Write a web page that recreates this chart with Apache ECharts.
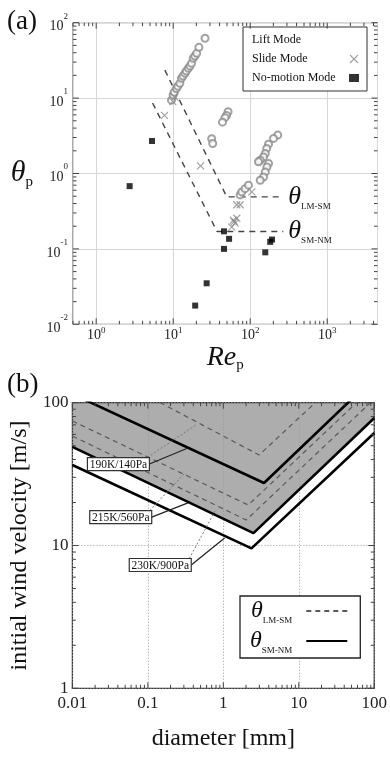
<!DOCTYPE html>
<html><head><meta charset="utf-8">
<script src="https://cdn.jsdelivr.net/npm/echarts@6.0.0/dist/echarts.min.js"></script>
<style>html,body{margin:0;padding:0;background:#fff;}#c{width:390px;height:758px;}</style>
</head><body><div id="c"></div>
<script>
const FONT = "'Liberation Serif','Times New Roman','DejaVu Serif',serif";

// ---------- Panel (a) data ----------
const liftRe = [9.5,9.98,10.3,11.0,11.5,12.2,12.8,13.4,14.2,14.8,15.7,16.5,17.3,18.2,19.1,20.2,21.6,25.9,
  51.6,49.3,47.1,43.7, 31.6,32.6, 74.0,77.8,85.9,94.9,
  228,201,173,164,157,149,135,128,173,165,157,149,135];
const liftTheta = [9.4,11.0,12.0,13.4,14.4,15.7,18.3,19.6,21.3,22.8,24.8,26.6,28.9,33.7,36.1,39.2,47.1,62.1,
  6.6,5.9,5.5,4.8, 2.9,2.5, 0.52,0.57,0.63,0.70,
  3.23,2.92,2.45,2.15,1.84,1.66,1.50,1.43,1.36,1.22,1.05,0.90,0.815];
const slideRe = [7.7,9.9,10.5,22.7,67,74,105,60.5,67,57.6,63.7,62];
const slideTheta = [5.9,9.0,10.3,1.26,0.385,0.385,0.57,0.24,0.255,0.195,0.219,0.23];
const noMotionRe = [2.72,5.31,45.7,53.2,45.7,157,192,182,27.2,19.3];
const noMotionTheta = [0.68,2.7,0.171,0.136,0.10,0.090,0.133,0.124,0.035,0.0177];
const lmsmRe = [7.8,49.6,269];
const lmsmTheta = [23.5,0.49,0.49];
const smnmRe = [5.4,37.1,269];
const smnmTheta = [8.6,0.17,0.17];
const thresholdLabelPos = [[313,0.49],[313,0.17]];
const thresholdLabelSub = ['LM-SM','SM-NM'];
const modeNames = ['Lift Mode','Slide Mode','No-motion Mode'];

// ---------- Panel (b) data ----------
const conditions = ['190K/140Pa','215K/560Pa','230K/900Pa'];
const smnmDiam = [[0.01,3.46,100],[0.01,2.51,100],[0.01,2.36,100]];
const smnmWind = [[115,27.4,150],[49.0,12.2,78.2],[36.6,9.55,61.3]];
const lmsmDiam = [[0.01,2.98,100],[0.01,2.14,100],[0.01,2.01,100]];
const lmsmWind = [[212,43.0,243],[74.5,19.2,131],[58.4,15.1,106]];
const shadedIndex = 1;
const labelPos = [[0.0407,37.2],[0.0437,15.8],[0.146,7.3]];
const solidTarget = [[0.34,48.2],[0.34,19.9],[1.04,11.3]];
const dashTarget = [[0.432,69.8],[0.31,32.2],[0.79,17.7]];
const legendNames = ['θLM-SM','θSM-NM'];
const legendSubs = ['LM-SM','SM-NM'];

// ---------- ranges ----------
const aX = [0.5,4500], aY = [0.01,100];
const bX = [0.01,100], bY = [1,100];

function isDecade(v){const e=Math.log10(v);return Math.abs(e-Math.round(e))<1e-6;}
function supLabel(v){ if(!isDecade(v)) return ''; return '{b|10}{s|'+Math.round(Math.log10(v))+'}'; }
function plainLabel(v){ if(!isDecade(v)) return ''; const r=Math.round(Math.log10(v)); return String(Number(Math.pow(10,r).toFixed(Math.max(0,-r)))); }
const supRichY = {
  b:{fontFamily:FONT,fontSize:14,color:'#222',lineHeight:22,verticalAlign:'bottom'},
  s:{fontFamily:FONT,fontSize:9,color:'#222',lineHeight:12,verticalAlign:'top'}
};
const supRichX = {
  b:{fontFamily:FONT,fontSize:14,color:'#222',lineHeight:16,verticalAlign:'bottom'},
  s:{fontFamily:FONT,fontSize:9,color:'#222',lineHeight:10,verticalAlign:'top'}
};

function tickData(xr, yr){
  const out=[];
  const gen=(r,isX)=>{
    for(let e=Math.floor(Math.log10(r[0]));e<=Math.ceil(Math.log10(r[1]));e++){
      for(let k=1;k<=9;k++){
        const v=k*Math.pow(10,e);
        if(v<r[0]*0.9999||v>r[1]*1.0001) continue;
        out.push(isX?[v,yr[0],0,k===1?1:0]:[xr[0],v,1,k===1?1:0]);
      }
    }
  };
  gen(xr,true); gen(yr,false);
  return out;
}
function tickSeries(gi, xr, yr){
  return {
    type:'custom', xAxisIndex:gi, yAxisIndex:gi, silent:true, z:5,
    data:tickData(xr,yr),
    renderItem:(params,api)=>{
      const kind=api.value(2), maj=api.value(3), len=maj?6:3.5;
      const st={stroke:'#444',lineWidth:1};
      if(kind===0){
        const v=api.value(0);
        const p=api.coord([v,yr[0]]), q=api.coord([v,yr[1]]);
        return {type:'group',children:[
          {type:'line',shape:{x1:p[0],y1:p[1],x2:p[0],y2:p[1]-len},style:st},
          {type:'line',shape:{x1:q[0],y1:q[1],x2:q[0],y2:q[1]+len},style:st}]};
      } else {
        const v=api.value(1);
        const p=api.coord([xr[0],v]), q=api.coord([xr[1],v]);
        return {type:'group',children:[
          {type:'line',shape:{x1:p[0],y1:p[1],x2:p[0]+len,y2:p[1]},style:st},
          {type:'line',shape:{x1:q[0],y1:q[1],x2:q[0]-len,y2:q[1]},style:st}]};
      }
    }
  };
}
const zip=(a,b)=>a.map((v,i)=>[v,b[i]]);

const series=[];
// Panel (a)
series.push({name:modeNames[0],type:'scatter',xAxisIndex:0,yAxisIndex:0,symbol:'emptyCircle',symbolSize:7,
  itemStyle:{color:'#8a8a8a',borderWidth:1},data:zip(liftRe,liftTheta),z:3});
series.push({name:modeNames[1],type:'scatter',xAxisIndex:0,yAxisIndex:0,symbol:'path://M0,0L10,10M10,0L0,10',symbolSize:7,
  itemStyle:{color:'rgba(0,0,0,0)',borderColor:'#888',borderWidth:1.1},data:zip(slideRe,slideTheta),z:3});
series.push({name:modeNames[2],type:'scatter',xAxisIndex:0,yAxisIndex:0,symbol:'rect',symbolSize:6,
  itemStyle:{color:'#000'},data:zip(noMotionRe,noMotionTheta),z:4});
series.push({type:'line',xAxisIndex:0,yAxisIndex:0,symbol:'none',data:zip(lmsmRe,lmsmTheta),
  lineStyle:{color:'#444',width:1.4,type:[6,5]},z:2,silent:true});
series.push({type:'line',xAxisIndex:0,yAxisIndex:0,symbol:'none',data:zip(smnmRe,smnmTheta),
  lineStyle:{color:'#444',width:1.4,type:[6,5]},z:2,silent:true});
series.push({type:'custom',xAxisIndex:0,yAxisIndex:0,silent:true,z:6,data:thresholdLabelPos,
  renderItem:(params,api)=>{
    const p=api.coord([api.value(0),api.value(1)]);
    return {type:'text',x:p[0],y:p[1],style:{text:'{t|θ}{s|'+thresholdLabelSub[params.dataIndex]+'}',
      align:'left',verticalAlign:'middle',
      rich:{t:{fontFamily:FONT,fontStyle:'italic',fontSize:26,lineHeight:28,fill:'#111'},
            s:{fontFamily:FONT,fontSize:9,lineHeight:12,verticalAlign:'bottom',fill:'#111'}}}};
  }});
series.push(tickSeries(0,aX,aY));

// Panel (b)
series.push({type:'custom',xAxisIndex:1,yAxisIndex:1,silent:true,z:-1,data:[[bX[0],bY[1]]],
  renderItem:(params,api)=>{
    const pts=smnmDiam[shadedIndex].map((d,i)=>api.coord([d,smnmWind[shadedIndex][i]]));
    pts.push(api.coord([bX[1],bY[1]])); pts.push(api.coord([bX[0],bY[1]]));
    return {type:'polygon',shape:{points:pts},style:{fill:'#adadad'}};
  }});
conditions.forEach((c,i)=>{
  series.push({name:legendNames[0],type:'line',xAxisIndex:1,yAxisIndex:1,symbol:'none',
    data:zip(lmsmDiam[i],lmsmWind[i]),lineStyle:{color:'#5a5a5a',width:1.2,type:[5,4]},
    itemStyle:{color:'#5a5a5a'},z:2,silent:true});
});
conditions.forEach((c,i)=>{
  series.push({name:legendNames[1],type:'line',xAxisIndex:1,yAxisIndex:1,symbol:'none',
    data:zip(smnmDiam[i],smnmWind[i]),lineStyle:{color:'#000',width:2.6},
    itemStyle:{color:'#000'},z:3,silent:true});
});
series.push({type:'custom',xAxisIndex:1,yAxisIndex:1,silent:true,z:6,
  data:labelPos.map((p,i)=>[p[0],p[1],solidTarget[i][0],solidTarget[i][1],dashTarget[i][0],dashTarget[i][1]]),
  renderItem:(params,api)=>{
    const c=api.coord([api.value(0),api.value(1)]);
    const s=api.coord([api.value(2),api.value(3)]);
    const d=api.coord([api.value(4),api.value(5)]);
    const w=62,h=13;
    return {type:'group',children:[
      {type:'line',shape:{x1:c[0]+w/2-2,y1:c[1]-h/2,x2:d[0],y2:d[1]},style:{stroke:'#777',lineWidth:1,lineDash:[2,2]}},
      {type:'line',shape:{x1:c[0]+w/2,y1:c[1],x2:s[0],y2:s[1]},style:{stroke:'#222',lineWidth:1.2}},
      {type:'rect',shape:{x:c[0]-w/2,y:c[1]-h/2,width:w,height:h},style:{fill:'#fff',stroke:'#333',lineWidth:1.2}},
      {type:'text',x:c[0],y:c[1]+0.5,style:{text:conditions[params.dataIndex],fontFamily:FONT,fontSize:11.5,
        align:'center',verticalAlign:'middle',fill:'#111'}}
    ]};
  }});
series.push(tickSeries(1,bX,bY));

const option={
  animation:false,
  backgroundColor:'#fff',
  title:[
    {text:'(a)',left:2,top:3,textStyle:{fontFamily:FONT,fontSize:27,fontWeight:'normal',color:'#111'}},
    {text:'(b)',left:2,top:366,textStyle:{fontFamily:FONT,fontSize:27,fontWeight:'normal',color:'#111'}}
  ],
  grid:[
    {left:73,top:22.7,width:304.5,height:301.6,show:true,borderColor:'#555',borderWidth:1,containLabel:false},
    {left:71,top:402.7,width:305.7,height:285.6,show:true,borderColor:'#333',borderWidth:1.3,containLabel:false}
  ],
  xAxis:[
    {type:'log',gridIndex:0,min:aX[0],max:aX[1],axisLine:{show:false},axisTick:{show:false},
     splitLine:{show:true,lineStyle:{color:'#d6d6d6',width:1}},
     axisLabel:{formatter:supLabel,rich:supRichX,margin:2},
     name:'{t|Re}{s|p}',nameLocation:'middle',nameGap:15,
     nameTextStyle:{rich:{t:{fontFamily:FONT,fontStyle:'italic',fontSize:28,lineHeight:30,color:'#111'},
       s:{fontFamily:FONT,fontSize:15,lineHeight:15,verticalAlign:'bottom',color:'#111'}}}},
    {type:'log',gridIndex:1,min:bX[0],max:bX[1],axisLine:{show:false},axisTick:{show:false},
     splitLine:{show:true,lineStyle:{color:'#999',width:1,type:[1,2]}},
     axisLabel:{formatter:plainLabel,fontFamily:FONT,fontSize:17,color:'#222',margin:7},
     name:'diameter [mm]',nameLocation:'middle',nameGap:38,
     nameTextStyle:{fontFamily:FONT,fontSize:24,color:'#111'}}
  ],
  yAxis:[
    {type:'log',gridIndex:0,min:aY[0],max:aY[1],axisLine:{show:false},axisTick:{show:false},
     splitLine:{show:true,lineStyle:{color:'#d6d6d6',width:1}},
     axisLabel:{formatter:supLabel,rich:supRichY,margin:5},
     name:'{t|θ}{s|p}',nameLocation:'middle',nameRotate:0,nameGap:40,
     nameTextStyle:{rich:{t:{fontFamily:FONT,fontStyle:'italic',fontSize:30,lineHeight:32,color:'#111'},
       s:{fontFamily:FONT,fontSize:15,lineHeight:15,verticalAlign:'bottom',color:'#111'}}}},
    {type:'log',gridIndex:1,min:bY[0],max:bY[1],axisLine:{show:false},axisTick:{show:false},
     splitLine:{show:true,lineStyle:{color:'#999',width:1,type:[1,2]}},
     axisLabel:{formatter:plainLabel,fontFamily:FONT,fontSize:17,color:'#222',margin:4},
     name:'initial wind velocity [m/s]',nameLocation:'middle',nameGap:33,
     nameTextStyle:{fontFamily:FONT,fontSize:24,color:'#111'}}
  ],
  legend:[
    {orient:'vertical',left:243,top:27,align:'right',itemWidth:10,itemHeight:8,itemGap:7,
     padding:[7,8,7,9],borderColor:'#333',borderWidth:1,backgroundColor:'#fff',
     data:[{name:modeNames[0],icon:'emptyCircle',itemStyle:{color:'#fff',borderColor:'#8a8a8a',borderWidth:1}},
           {name:modeNames[1],icon:'path://M0,0L10,10M10,0L0,10',itemStyle:{color:'rgba(0,0,0,0)',borderColor:'#888',borderWidth:1.1}},
           {name:modeNames[2],icon:'rect',itemStyle:{color:'#000'}}],
     formatter:n=>'{n|'+n+'}',
     textStyle:{rich:{n:{fontFamily:FONT,fontSize:12,color:'#111',width:92,lineHeight:14,align:'left'}}},
     selectedMode:false},
    {orient:'vertical',left:240,top:596,align:'right',itemWidth:41,itemHeight:14,itemGap:4,
     padding:[3,12,3,10],borderColor:'#222',borderWidth:1.3,backgroundColor:'#fff',
     itemStyle:{opacity:0},
     data:legendNames,
     formatter:n=>'{t|θ}{s|'+legendSubs[legendNames.indexOf(n)]+'}{g|}',
     textStyle:{rich:{t:{fontFamily:FONT,fontStyle:'italic',fontSize:24,lineHeight:28,color:'#111'},
       s:{fontFamily:FONT,fontSize:9,lineHeight:12,verticalAlign:'bottom',color:'#111'},
       g:{width:9,lineHeight:12}}},
     selectedMode:false}
  ],
  series:series
};
const chart=echarts.init(document.getElementById('c'),null,{renderer:'canvas'});
chart.setOption(option);
</script>
</body></html>
